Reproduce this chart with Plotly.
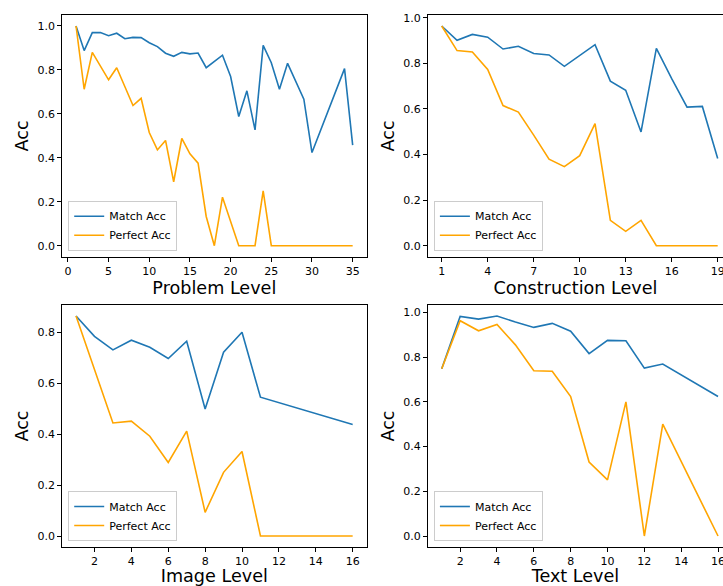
import plotly.graph_objects as go

# ---- data ----
prob_x = [1, 2, 3, 4, 5, 6, 7, 8, 9, 10, 11, 12, 13, 14, 15, 16, 17, 18, 19, 20,
          21, 22, 23, 24, 25, 26, 27, 29, 30, 34, 35]
prob_match = [1.0, 0.888, 0.97, 0.97, 0.956, 0.967, 0.942, 0.948, 0.947, 0.924,
              0.906, 0.876, 0.862, 0.88, 0.873, 0.877, 0.81, 0.838, 0.867, 0.77,
              0.588, 0.705, 0.527, 0.912, 0.833, 0.712, 0.83, 0.667, 0.424, 0.806, 0.458]
prob_perfect = [1.0, 0.712, 0.88, 0.815, 0.755, 0.81, 0.724, 0.638, 0.671, 0.515,
                0.436, 0.479, 0.291, 0.488, 0.418, 0.376, 0.133, 0.0, 0.221, 0.106,
                0.0, 0.0, 0.0, 0.25, 0.0, 0.0, 0.0, 0.0, 0.0, 0.0, 0.0]

cons_x = list(range(1, 20))
cons_match = [0.964, 0.901, 0.927, 0.915, 0.863, 0.875, 0.843, 0.837, 0.787, 0.834,
              0.882, 0.722, 0.682, 0.499, 0.866, 0.733, 0.608, 0.611, 0.383]
cons_perfect = [0.964, 0.856, 0.85, 0.773, 0.615, 0.586, 0.485, 0.38, 0.347, 0.395,
                0.536, 0.111, 0.063, 0.111, 0.0, 0.0, 0.0, 0.0, 0.0]

img_x = [1, 2, 3, 4, 5, 6, 7, 8, 9, 10, 11, 16]
img_match = [0.864, 0.784, 0.731, 0.769, 0.741, 0.697, 0.765, 0.499, 0.722, 0.8, 0.545, 0.438]
img_perfect = [0.864, 0.657, 0.444, 0.451, 0.392, 0.289, 0.412, 0.093, 0.25, 0.332, 0.0, 0.0]

text_x = [1, 2, 3, 4, 5, 6, 7, 8, 9, 10, 11, 12, 13, 16]
text_match = [0.748, 0.982, 0.97, 0.984, 0.957, 0.933, 0.951, 0.916, 0.816, 0.875,
              0.873, 0.751, 0.769, 0.624]
text_perfect = [0.748, 0.963, 0.918, 0.946, 0.855, 0.739, 0.737, 0.624, 0.331, 0.251,
                0.6, 0.0, 0.5, 0.0]

x_titles = ["Problem Level", "Construction Level", "Image Level", "Text Level"]
x_ticks = [[0, 5, 10, 15, 20, 25, 30, 35], [1, 4, 7, 10, 13, 16, 19],
           list(range(2, 17, 2)), list(range(2, 17, 2))]
y_ticks = [[0, 0.2, 0.4, 0.6, 0.8, 1.0], [0, 0.2, 0.4, 0.6, 0.8, 1.0],
           [0, 0.2, 0.4, 0.6, 0.8], [0, 0.2, 0.4, 0.6, 0.8, 1.0]]
series_names = ["Match Acc", "Perfect Acc"]

# ---- layout geometry (pixels) ----
W, H = 723, 586
FONT = "DejaVu Sans"
BLUE = "#1f77b4"
ORANGE = "#FFA500"

panels = [
    dict(x=prob_x, m=prob_match, p=prob_perfect, xd=(62.2, 366.5), yd=(15, 256.7),
         xr=[-0.7, 36.7], yr=[-0.05, 1.05]),
    dict(x=cons_x, m=cons_match, p=cons_perfect, xd=(427.9, 723), yd=(15, 256.7),
         xr=[0.1, 19.346], yr=[-0.0482, 1.0122]),
    dict(x=img_x, m=img_match, p=img_perfect, xd=(62.2, 366.5), yd=(305, 547),
         xr=[0.25, 16.75], yr=[-0.0432, 0.9072]),
    dict(x=text_x, m=text_match, p=text_perfect, xd=(427.9, 723), yd=(305, 547),
         xr=[0.25, 16.27], yr=[-0.0492, 1.0332]),
]

fig = go.Figure()
layout = dict(
    width=W, height=H,
    margin=dict(l=0, r=0, t=0, b=0),
    paper_bgcolor="white", plot_bgcolor="white",
    font=dict(family=FONT, size=11, color="black"),
    showlegend=True,
)

for i, pnl in enumerate(panels):
    n = "" if i == 0 else str(i + 1)
    leg = "legend" + n
    for name, ys, col in [(series_names[0], pnl["m"], BLUE), (series_names[1], pnl["p"], ORANGE)]:
        fig.add_trace(go.Scatter(
            x=pnl["x"], y=ys, mode="lines", name=name,
            line=dict(color=col, width=1.6),
            xaxis="x" + n, yaxis="y" + n, legend=leg,
        ))
    x0, x1 = pnl["xd"]
    y0, y1 = pnl["yd"]
    layout["xaxis" + n] = dict(
        domain=[x0 / W, x1 / W], anchor="y" + n, range=pnl["xr"],
        tickmode="array", tickvals=x_ticks[i],
        ticks="outside", ticklen=4, tickwidth=1, tickcolor="black",
        showline=True, linecolor="black", linewidth=1, mirror=True,
        showgrid=False, zeroline=False, automargin=False,
        ticklabeloverflow="allow",
        tickfont=dict(size=11, family=FONT),
        title=dict(text=x_titles[i], font=dict(size=17.6, family=FONT), standoff=4),
    )
    layout["yaxis" + n] = dict(
        domain=[1 - y1 / H, 1 - y0 / H], anchor="x" + n, range=pnl["yr"],
        tickmode="array", tickvals=y_ticks[i], tickformat=".1f",
        ticks="outside", ticklen=4, tickwidth=1, tickcolor="black",
        showline=True, linecolor="black", linewidth=1, mirror=True,
        showgrid=False, zeroline=False, automargin=False,
        tickfont=dict(size=11, family=FONT),
        title=dict(text="Acc", font=dict(size=17.6, family=FONT), standoff=4),
    )
    layout[leg] = dict(
        x=(x0 + 6) / W, y=1 - (y1 - 6) / H, xanchor="left", yanchor="bottom",
        xref="paper", yref="paper",
        bgcolor="rgba(255,255,255,0.8)", bordercolor="#cccccc", borderwidth=1,
        font=dict(size=11, family=FONT), tracegroupgap=0,
    )

fig.update_layout(**layout)
fig.write_html(
    "out.html",
    config={"displayModeBar": False},
    post_script="document.body.style.margin='0';document.body.style.overflow='hidden';",
)
